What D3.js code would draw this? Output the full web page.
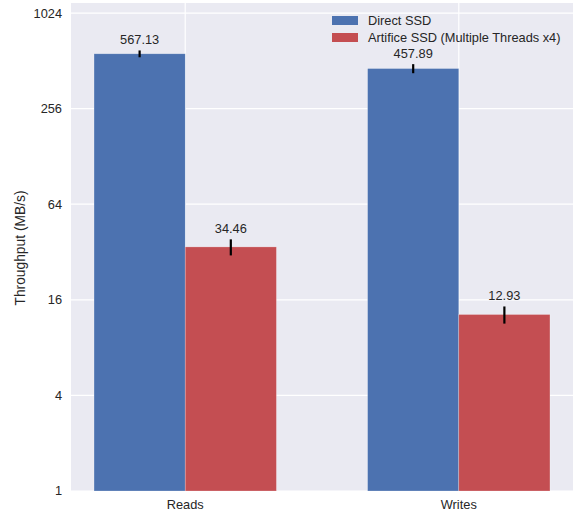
<!DOCTYPE html>
<html>
<head>
<meta charset="utf-8">
<script src="https://cdn.jsdelivr.net/npm/d3@7"></script>
<style>
  body { margin: 0; background: #fff; }
  svg { display: block; font-family: "Liberation Sans", Arial, sans-serif; }
</style>
</head>
<body>
<svg width="575" height="514"></svg>
<script>
// grouped bar chart, log2 y axis, seaborn darkgrid look

var groups = ["Reads", "Writes"];
var seriesNames = ["Direct SSD", "Artifice SSD (Multiple Threads x4)"];
var directVals = [567.13, 457.89];
var directErr = [28, 30];
var artificeVals = [34.46, 12.93];
var artificeErr = [4, 1.6];
var yTicks = [1, 4, 16, 64, 256, 1024];

var colors = ["#4C72B0", "#C44E52"];
var barW = 1 / 3;

// note: "top" is a reserved window property, so use plot* names
var plotLeft = 71, plotRight = 573, plotTop = 3, plotBottom = 491;

var svg = d3.select("svg");

var x = d3.scaleLinear().domain([-0.4175, 1.4175]).range([plotLeft, plotRight]);
var y = d3.scaleLog().base(2).domain([1, Math.pow(2, 10.21)]).range([plotBottom, plotTop]);

svg.append("rect")
    .attr("x", plotLeft).attr("y", plotTop)
    .attr("width", plotRight - plotLeft).attr("height", plotBottom - plotTop)
    .attr("fill", "#EAEAF2");

// grid
svg.append("g").selectAll("line")
    .data(yTicks)
    .enter().append("line")
    .attr("x1", plotLeft).attr("x2", plotRight)
    .attr("y1", function(d) { return y(d); })
    .attr("y2", function(d) { return y(d); })
    .attr("stroke", "#fff").attr("stroke-width", 1.2);

svg.append("g").selectAll("line")
    .data(groups)
    .enter().append("line")
    .attr("x1", function(d, i) { return x(i); })
    .attr("x2", function(d, i) { return x(i); })
    .attr("y1", plotTop).attr("y2", plotBottom)
    .attr("stroke", "#fff").attr("stroke-width", 1.2);

var series = [
    { name: seriesNames[0], vals: directVals, errs: directErr, off: -barW },
    { name: seriesNames[1], vals: artificeVals, errs: artificeErr, off: 0 }
];

series.forEach(function(s, si) {
    var g = svg.append("g");
    var rows = s.vals.map(function(v, i) { return { i: i, v: v, e: s.errs[i] }; });

    g.selectAll("rect")
        .data(rows)
        .enter().append("rect")
        .attr("x", function(d) { return x(d.i + s.off); })
        .attr("width", x(barW) - x(0))
        .attr("y", function(d) { return y(d.v); })
        .attr("height", function(d) { return plotBottom - y(d.v); })
        .attr("fill", colors[si])
        .attr("stroke", "#fff").attr("stroke-opacity", 0.4).attr("stroke-width", 0.6);

    g.selectAll("line")
        .data(rows)
        .enter().append("line")
        .attr("x1", function(d) { return x(d.i + s.off + barW / 2); })
        .attr("x2", function(d) { return x(d.i + s.off + barW / 2); })
        .attr("y1", function(d) { return y(d.v - d.e); })
        .attr("y2", function(d) { return y(d.v + d.e); })
        .attr("stroke", "#000").attr("stroke-width", 2.2);

    g.selectAll("text")
        .data(rows)
        .enter().append("text")
        .attr("x", function(d) { return x(d.i + s.off + barW / 2); })
        .attr("y", function(d) { return y(d.v + d.e) - 6; })
        .attr("text-anchor", "middle")
        .attr("font-size", 12.8)
        .attr("fill", "#262626")
        .text(function(d) { return d.v.toFixed(2); });
});

// y tick labels
svg.append("g").selectAll("text")
    .data(yTicks)
    .enter().append("text")
    .attr("x", 62)
    .attr("y", function(d) { return y(d); })
    .attr("dy", "0.35em")
    .attr("text-anchor", "end")
    .attr("font-size", 12.8)
    .attr("fill", "#262626")
    .text(function(d) { return d; });

// x tick labels
svg.append("g").selectAll("text")
    .data(groups)
    .enter().append("text")
    .attr("x", function(d, i) { return x(i); })
    .attr("y", 509)
    .attr("text-anchor", "middle")
    .attr("font-size", 12.8)
    .attr("fill", "#262626")
    .text(function(d) { return d; });

svg.append("text")
    .attr("transform", "translate(25,248) rotate(-90)")
    .attr("text-anchor", "middle")
    .attr("font-size", 13.8)
    .attr("fill", "#262626")
    .text("Throughput (MB/s)");

// legend
var leg = svg.append("g").attr("transform", "translate(332,16)");
seriesNames.forEach(function(n, i) {
    leg.append("rect")
        .attr("x", 0).attr("y", i * 17)
        .attr("width", 26).attr("height", 9)
        .attr("fill", colors[i]);
    leg.append("text")
        .attr("x", 36).attr("y", i * 17 + 4.5)
        .attr("dy", "0.35em")
        .attr("font-size", 12.8)
        .attr("fill", "#262626")
        .text(n);
});
</script>
</body>
</html>
